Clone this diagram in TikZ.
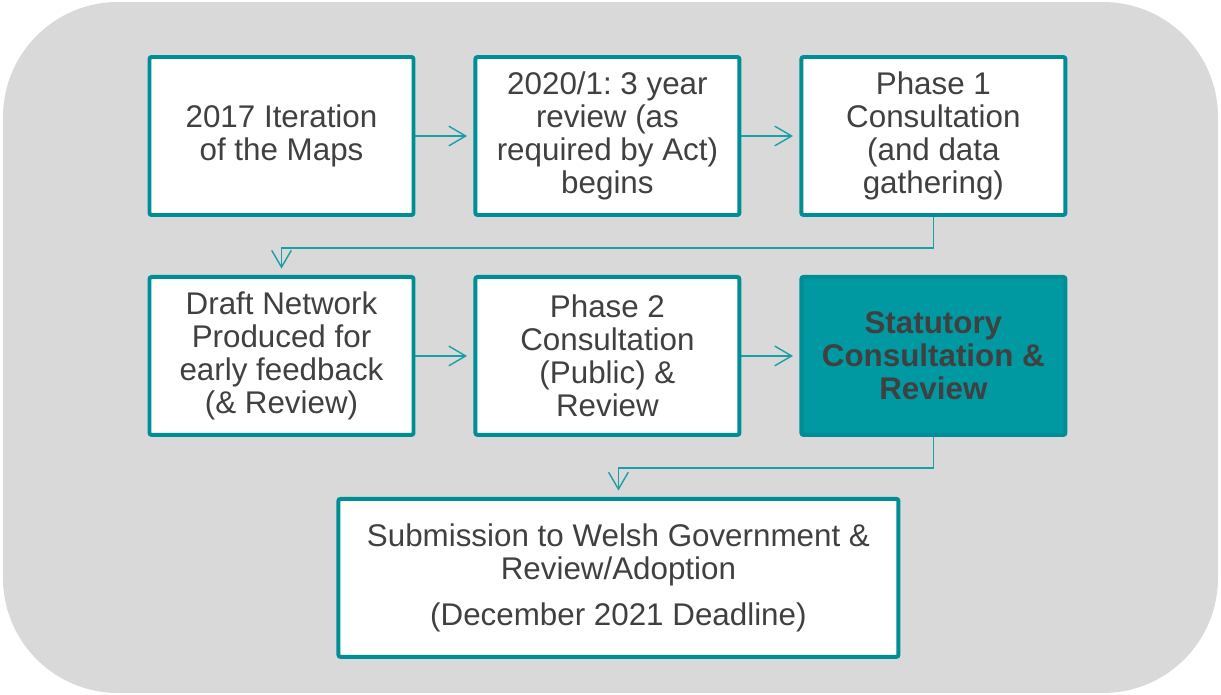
\documentclass[tikz,border=0pt]{standalone}
\usepackage{fontspec}
\setmainfont{Liberation Sans}
\frenchspacing
\usetikzlibrary{arrows.meta,positioning}

\definecolor{panel}{HTML}{D9D9D9}
\definecolor{teal}{HTML}{008E96}
\definecolor{tealfill}{HTML}{0099A2}
\definecolor{arrowteal}{HTML}{1A9FA7}
\definecolor{ink}{HTML}{404040}

\tikzset{
  stage/.style={draw=teal, line width=2.8pt, fill=white, rounded corners=1.5pt,
    minimum width=6.6cm, minimum height=3.95cm, align=center,
    text=ink, font=\fontsize{22.3}{23.6}\selectfont, inner sep=0pt},
  current/.style={stage, fill=tealfill, font=\fontsize{22.3}{23.6}\selectfont\bfseries},
  flow/.style={draw=arrowteal, line width=1pt, -{Straight Barb[length=12pt,width=14pt]},
    shorten >=0.16cm},
}

\begin{document}
\begin{tikzpicture}[node distance=1.45cm and 1.45cm]

    % grey panel behind everything
    \path[use as bounding box] (0,0) rectangle (30.525,-17.375);
    \fill[panel, rounded corners=2.875cm] (0.075,-0.05) rectangle (30.45,-17.325);

    \node[stage] (iteration) at (7.0375,-3.4) {2017 Iteration\\of the Maps};
    \node[stage, right=of iteration] (review) {2020/1: 3 year\\review (as\\required by Act)\\begins};
    \node[stage, right=of review] (phaseone) {Phase 1\\Consultation\\(and data\\gathering)};

    \node[stage, below=of iteration] (draft) {Draft Network\\Produced for\\early feedback\\(\& Review)};
    \node[stage, right=of draft] (phasetwo) {Phase 2\\Consultation\\(Public) \&\\Review};
    \node[current, right=of phasetwo] (statutory) {Statutory\\Consultation \&\\Review};

    \node[stage, minimum width=14cm, below=1.5cm of phasetwo, xshift=0.275cm] (submission)
      {Submission to Welsh Government \&\\Review/Adoption\\[0.3cm](December 2021 Deadline)};

    \draw[flow] (iteration) -- (review);
    \draw[flow] (review) -- (phaseone);
    \draw[flow] (draft) -- (phasetwo);
    \draw[flow] (phasetwo) -- (statutory);
    \draw[flow] (phaseone.south) -- ++(0,-0.775) -| (draft.north);
    \draw[flow] (statutory.south) -- ++(0,-0.775) -| (submission.north);

\end{tikzpicture}
\end{document}
